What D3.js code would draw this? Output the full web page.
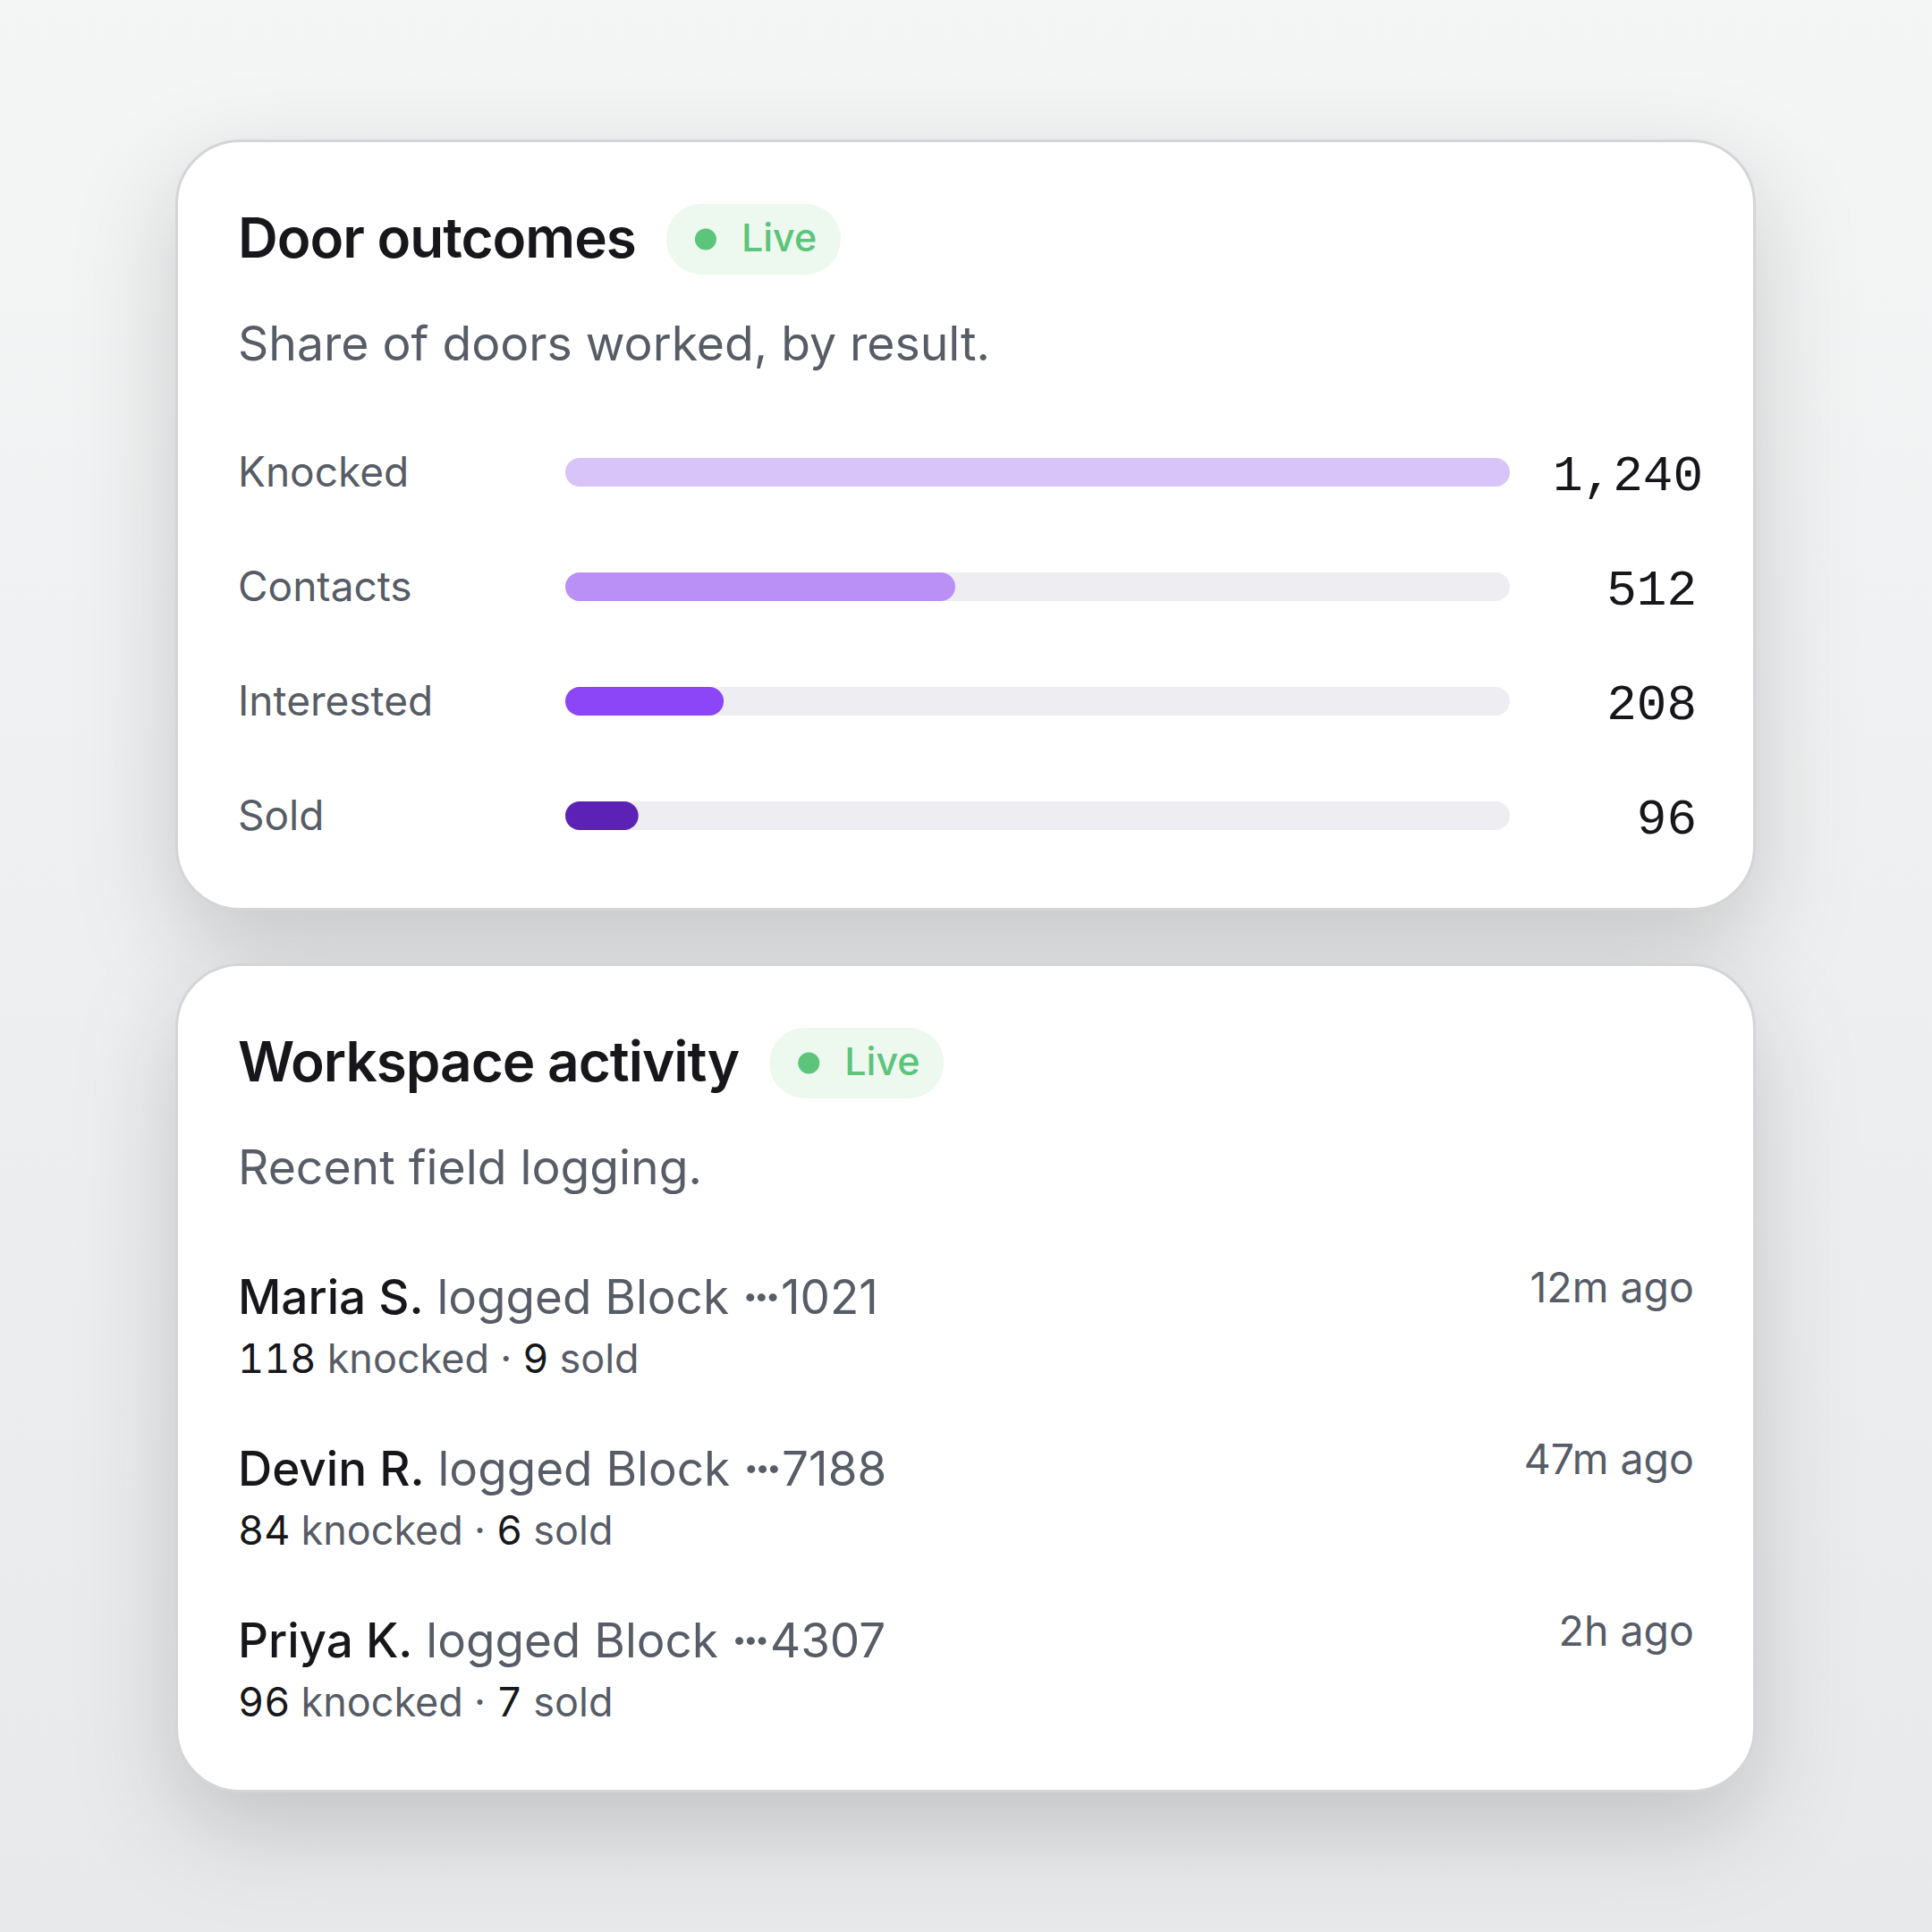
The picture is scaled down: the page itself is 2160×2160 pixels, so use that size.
<!DOCTYPE html>
<html>
<head>
<meta charset="utf-8">
<script src="https://cdn.jsdelivr.net/npm/d3@7"></script>
<style>
  html, body { margin: 0; padding: 0; width: 2160px; height: 2160px; overflow: hidden; background: #f1f2f3; }
  svg { display: block; }
</style>
</head>
<body>
<svg id="chart" width="2160" height="2160"></svg>
<script>
// ---------- DATA ----------
const outcomeLabels = ["Knocked", "Contacts", "Interested", "Sold"];
const outcomeValues = [1240, 512, 208, 96];

const activityNames = ["Maria S.", "Devin R.", "Priya K."];
const activityBlocks = ["1021", "7188", "4307"];
const activityKnocked = [118, 84, 96];
const activitySold = [9, 6, 7];
const activityTimes = ["12m ago", "47m ago", "2h ago"];

const card1Title = "Door outcomes";
const card1Subtitle = "Share of doors worked, by result.";
const card2Title = "Workspace activity";
const card2Subtitle = "Recent field logging.";
const badgeText = "Live";

// ---------- STYLE ----------
const barColors = ["#d9c4f9", "#ba8ff6", "#8c45f7", "#5c22b6"];
const trackColor = "#eeeef2";
const dark = "#17171b";
const gray = "#575c66";
const green = "#5cc47b";
const greenBg = "#edf8ef";
const sans = "Inter, 'Noto Sans', sans-serif";
const mono = "'Liberation Mono', 'DejaVu Sans Mono', monospace";

const svg = d3.select("#chart");
const defs = svg.append("defs");

// background gradient
const bg = defs.append("linearGradient").attr("id", "bg").attr("x1", 0).attr("y1", 0).attr("x2", 0).attr("y2", 1);
bg.append("stop").attr("offset", "0%").attr("stop-color", "#f4f5f5");
bg.append("stop").attr("offset", "100%").attr("stop-color", "#e8e9eb");
svg.append("rect").attr("width", 2160).attr("height", 2160).attr("fill", "url(#bg)");

// shadow
const f = defs.append("filter").attr("id", "shadow").attr("x", "-30%").attr("y", "-40%").attr("width", "160%").attr("height", "190%");
f.append("feGaussianBlur").attr("in", "SourceAlpha").attr("stdDeviation", 55);
f.append("feOffset").attr("dy", 40).attr("result", "ob");
f.append("feFlood").attr("flood-color", "#000").attr("flood-opacity", 0.17);
f.append("feComposite").attr("in2", "ob").attr("operator", "in").attr("result", "sh");
const fm = f.append("feMerge");
fm.append("feMergeNode").attr("in", "sh");

const cardX = 196, cardW = 1767, cardR = 72;
const card1Y = 156, card1H = 862;
const card2Y = 1077, card2H = 927;
const padX = 266;

function drawCard(y, h) {
  svg.append("rect").attr("x", cardX).attr("y", y).attr("width", cardW).attr("height", h)
    .attr("rx", cardR).attr("fill", "#000").attr("filter", "url(#shadow)");
}
drawCard(card1Y, card1H);
drawCard(card2Y, card2H);
function drawCardFace(y, h) {
  svg.append("rect").attr("x", cardX + 1.5).attr("y", y + 1.5).attr("width", cardW - 3).attr("height", h - 3)
    .attr("rx", cardR - 1.5).attr("fill", "#fff").attr("stroke", "#d5d5d9").attr("stroke-width", 3);
}
drawCardFace(card1Y, card1H);
drawCardFace(card2Y, card2H);

function header(cy, title, subtitle) {
  const g = svg.append("g");
  const t = g.append("text").attr("x", padX).attr("y", cy + 132)
    .attr("font-family", sans).attr("font-size", 62).attr("font-weight", 600)
    .attr("letter-spacing", "-1px").attr("fill", dark).text(title);
  const tw = t.node().getComputedTextLength();
  const bx = padX + tw + 34;
  const bcy = cy + 111.5;
  g.append("rect").attr("x", bx).attr("y", bcy - 39.5).attr("width", 195).attr("height", 79)
    .attr("rx", 39.5).attr("fill", greenBg);
  g.append("circle").attr("cx", bx + 44).attr("cy", bcy).attr("r", 12).attr("fill", green);
  g.append("text").attr("x", bx + 84).attr("y", bcy + 13)
    .attr("font-family", sans).attr("font-size", 43).attr("font-weight", 500)
    .attr("fill", green).text(badgeText);
  g.append("text").attr("x", padX).attr("y", cy + 247)
    .attr("font-family", sans).attr("font-size", 53.5).attr("fill", gray).text(subtitle);
}
header(card1Y, card1Title, card1Subtitle);
header(card2Y, card2Title, card2Subtitle);

// ---------- BARS ----------
const trackX0 = 632, trackX1 = 1688, barH = 32;
const x = d3.scaleLinear().domain([0, d3.max(outcomeValues)]).range([trackX0, trackX1]);
const y = d3.scaleBand().domain(outcomeLabels).range([card1Y + 308, card1Y + 308 + 128 * 4]).paddingInner(0);

const rows = svg.append("g").selectAll("g").data(outcomeLabels).join("g")
  .attr("transform", d => `translate(0,${y(d) + y.bandwidth() / 2})`);
rows.append("rect").attr("x", x(0)).attr("y", -barH / 2).attr("width", x.range()[1] - x(0)).attr("height", barH)
  .attr("rx", barH / 2).attr("fill", trackColor);
rows.append("rect").attr("x", x(0)).attr("y", -barH / 2)
  .attr("width", (d, i) => x(outcomeValues[i]) - x(0)).attr("height", barH)
  .attr("rx", barH / 2).attr("fill", (d, i) => barColors[i]);
rows.append("text").attr("x", padX).attr("y", 16)
  .attr("font-family", sans).attr("font-size", 46).attr("fill", gray).text(d => d);

const valColLeft = 1736, valColW = 161;
const fmt = d3.format(",");
rows.append("text").attr("y", 20)
  .attr("font-family", mono).attr("font-size", 56).attr("fill", dark)
  .text((d, i) => fmt(outcomeValues[i]))
  .each(function () {
    const w = this.getComputedTextLength();
    const s = d3.select(this);
    if (w > valColW) s.attr("x", valColLeft).attr("text-anchor", "start");
    else s.attr("x", valColLeft + valColW).attr("text-anchor", "end");
  });

// ---------- ACTIVITY ----------
const ay = d3.scaleBand().domain(d3.range(activityNames.length)).range([card2Y + 392, card2Y + 392 + 192 * 3]);
const arows = svg.append("g").selectAll("g").data(activityNames).join("g")
  .attr("transform", (d, i) => `translate(0,${ay(i)})`);
const line1 = arows.append("text").attr("x", padX).attr("y", 0)
  .attr("font-family", sans).attr("font-size", 53);
line1.append("tspan").attr("fill", dark).attr("font-weight", 500).text(d => d);
line1.append("tspan").attr("fill", gray).text(" logged Block ");
line1.append("tspan").attr("fill", gray).attr("font-weight", 700).attr("letter-spacing", "-5px").text("\u00B7\u00B7\u00B7");
line1.append("tspan").attr("fill", gray).attr("dx", 5).text((d, i) => activityBlocks[i]);

const line2 = arows.append("text").attr("x", padX).attr("y", 66)
  .attr("font-family", sans).attr("font-size", 45).style("font-variant-numeric", "tabular-nums");
line2.append("tspan").attr("fill", dark).text((d, i) => activityKnocked[i]);
line2.append("tspan").attr("fill", gray).text(" knocked \u00B7 ");
line2.append("tspan").attr("fill", dark).text((d, i) => activitySold[i]);
line2.append("tspan").attr("fill", gray).text(" sold");

arows.append("text").attr("x", 1894).attr("y", -13).attr("text-anchor", "end")
  .attr("font-family", sans).attr("font-size", 46.5).attr("fill", gray)
  .text((d, i) => activityTimes[i]);
</script>
</body>
</html>
